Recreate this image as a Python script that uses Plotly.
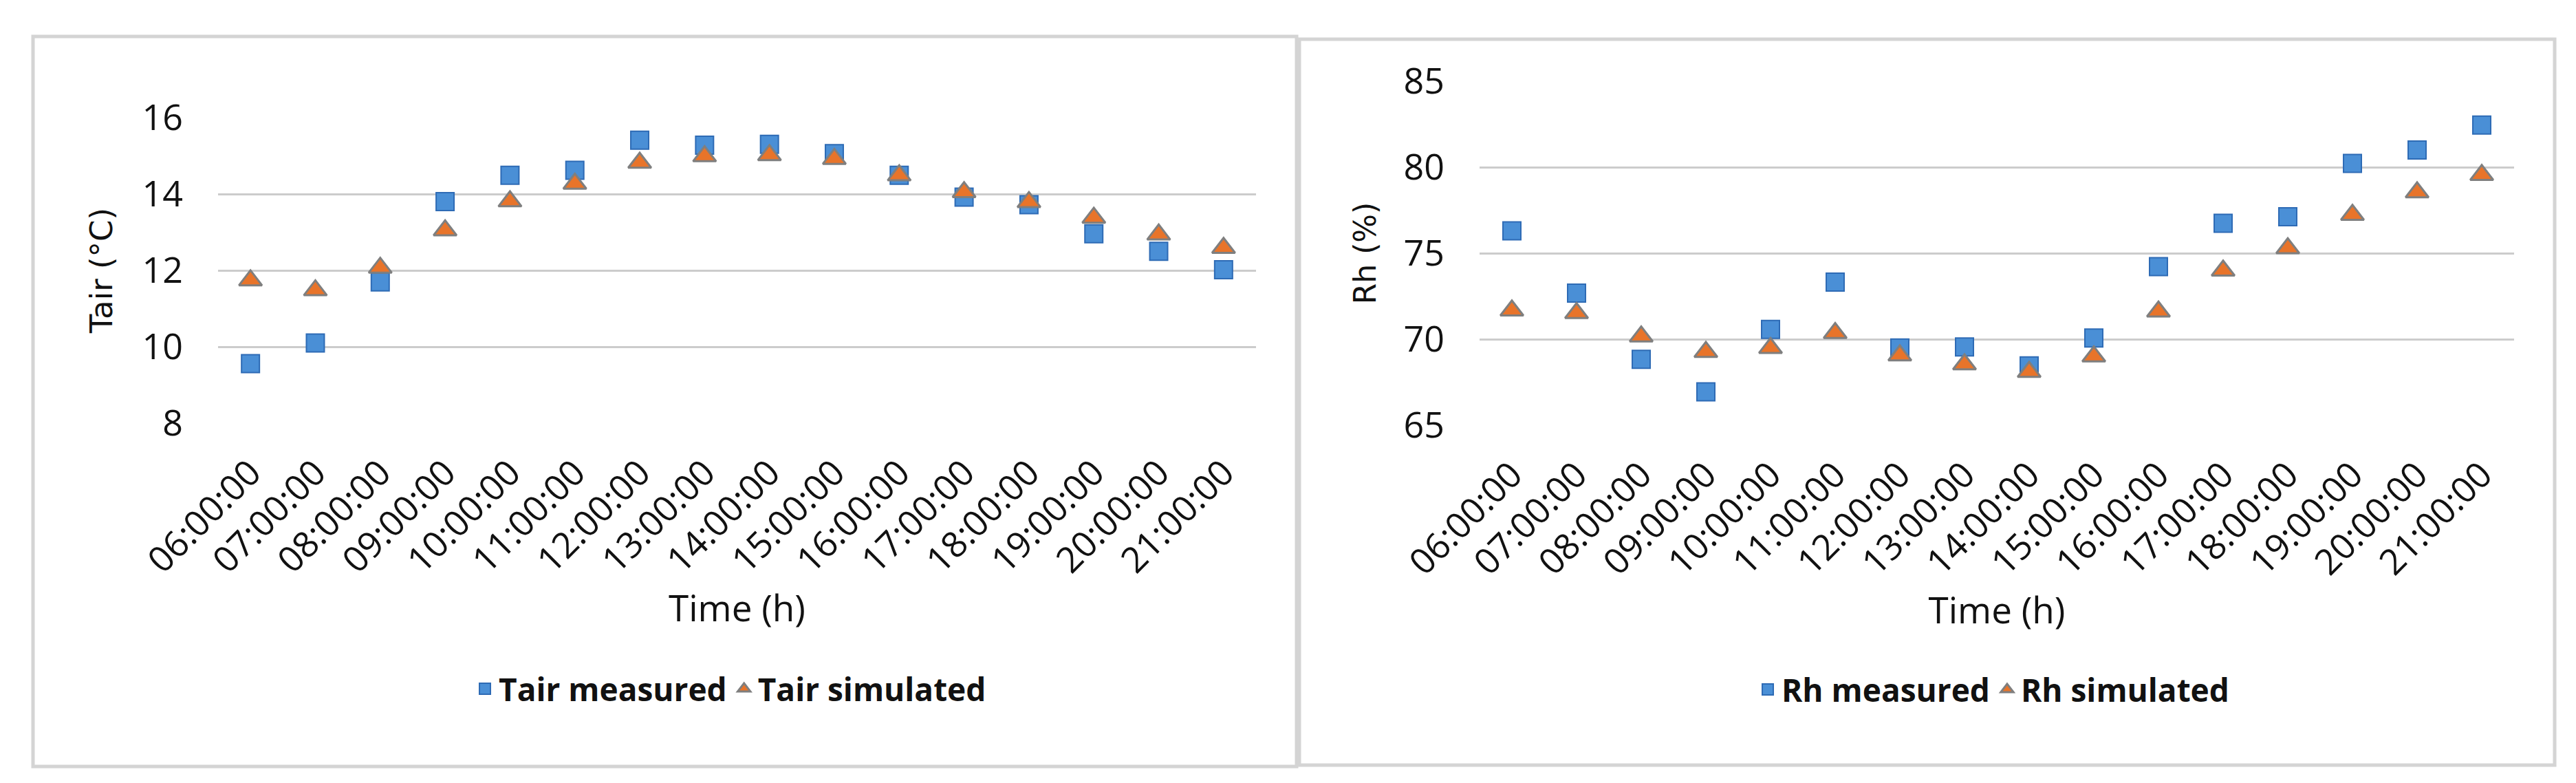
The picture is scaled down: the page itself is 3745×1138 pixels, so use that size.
import plotly.graph_objects as go

times = ["06:00:00", "07:00:00", "08:00:00", "09:00:00", "10:00:00", "11:00:00",
         "12:00:00", "13:00:00", "14:00:00", "15:00:00", "16:00:00", "17:00:00",
         "18:00:00", "19:00:00", "20:00:00", "21:00:00"]

tair_measured = [9.56, 10.10, 11.70, 13.80, 14.49, 14.62, 15.41, 15.28,
                 15.30, 15.06, 14.49, 13.92, 13.72, 12.96, 12.50, 12.02]
tair_simulated = [11.74, 11.48, 12.07, 13.05, 13.81, 14.27, 14.82, 14.99,
                  15.02, 14.92, 14.49, 14.05, 13.79, 13.38, 12.94, 12.59]

rh_measured = [76.30, 72.68, 68.83, 66.94, 70.57, 73.32, 69.49, 69.55,
               68.45, 70.07, 74.22, 76.74, 77.12, 80.22, 81.00, 82.45]
rh_simulated = [71.67, 71.52, 70.16, 69.26, 69.49, 70.36, 69.06, 68.54,
                68.10, 69.00, 71.61, 73.99, 75.29, 77.23, 78.54, 79.55]

W, H = 3745, 1138
BLUE = "#4A8FD6"
BLUE_EDGE = "#2E6BB5"
ORANGE = "#E8742A"
GREY_EDGE = "#7F7F7F"
TXT = "#111111"
TICKFONT = dict(family="Open Sans", size=52, color=TXT)

def px(x):
    return x / W

def py(y):
    return 1 - y / H

fig = go.Figure()

sq = dict(symbol="square", size=26, color=BLUE, line=dict(color=BLUE_EDGE, width=2))
tri = dict(symbol="triangle-up", size=29, color=ORANGE, line=dict(color=GREY_EDGE, width=3))

fig.add_trace(go.Scatter(x=times, y=tair_measured, mode="markers", name="Tair measured",
                         marker=sq, xaxis="x", yaxis="y", legend="legend"))
fig.add_trace(go.Scatter(x=times, y=tair_simulated, mode="markers", name="Tair simulated",
                         marker=tri, xaxis="x", yaxis="y", legend="legend"))
fig.add_trace(go.Scatter(x=times, y=rh_measured, mode="markers", name="Rh measured",
                         marker=sq, xaxis="x2", yaxis="y2", legend="legend2"))
fig.add_trace(go.Scatter(x=times, y=rh_simulated, mode="markers", name="Rh simulated",
                         marker=tri, xaxis="x2", yaxis="y2", legend="legend2"))

xcommon = dict(type="category", range=[-0.5, 15.5], showgrid=False, zeroline=False,
               showline=False, tickangle=-45, tickfont=TICKFONT, ticks="",
               ticklabelstandoff=30, automargin=False)
ycommon = dict(showgrid=True, gridcolor="#CCCCCC", gridwidth=3, zeroline=False,
               showline=False, ticks="", tickfont=TICKFONT, ticklabelstandoff=50,
               automargin=False)

legfont = dict(family="Open Sans", size=46, color=TXT, weight="bold")

fig.update_layout(
    template="none",
    width=W, height=H,
    margin=dict(l=0, r=0, t=0, b=0, pad=0, autoexpand=False),
    paper_bgcolor="white", plot_bgcolor="white",
    showlegend=True,
    xaxis=dict(xcommon, domain=[px(309), px(1818)], anchor="y",
               title=dict(text="Time (h)", font=dict(family="Open Sans", size=53, color=TXT),
                          standoff=16)),
    yaxis=dict(ycommon, domain=[py(607), py(163)], anchor="x", range=[8, 16], dtick=2,
               title=dict(text="Tair (°C)", font=dict(family="DejaVu Sans", size=45, color=TXT),
                          standoff=28)),
    xaxis2=dict(xcommon, domain=[px(2143), px(3647)], anchor="y2",
                title=dict(text="Time (h)", font=dict(family="Open Sans", size=53, color=TXT),
                           standoff=16)),
    yaxis2=dict(ycommon, domain=[py(610), py(110)], anchor="x2", range=[65, 85], dtick=5,
                title=dict(text="Rh (%)", font=dict(family="DejaVu Sans", size=44, color=TXT),
                           standoff=26)),
    legend=dict(orientation="h", x=px(1054), xanchor="center", y=py(993), yanchor="middle",
                font=legfont, bgcolor="rgba(0,0,0,0)", itemsizing="trace"),
    legend2=dict(orientation="h", x=px(2890), xanchor="center", y=py(994), yanchor="middle",
                 font=legfont, bgcolor="rgba(0,0,0,0)", itemsizing="trace"),
    shapes=[
        dict(type="rect", xref="paper", yref="paper", x0=px(40), x1=px(1877),
             y0=py(1106), y1=py(45), line=dict(color="#D4D4D4", width=5), layer="below"),
        dict(type="rect", xref="paper", yref="paper", x0=px(1881), x1=px(3706),
             y0=py(1104), y1=py(49), line=dict(color="#D4D4D4", width=5), layer="below"),
    ],
)

fig.write_html("out.html")
